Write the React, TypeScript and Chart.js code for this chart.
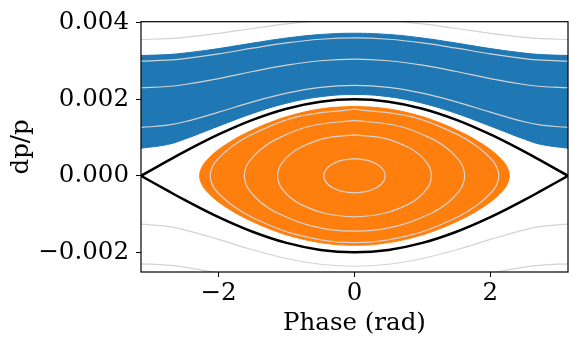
import React, { useEffect, useRef } from 'react';
import { Chart, registerables } from 'chart.js';

Chart.register(...registerables);

// Phase samples (rad) for one half of the symmetric open curves (mirrored to negative phase)
const PHASE_HALF = [0, 0.5, 1, 1.5, 2, 2.5, 2.75, 3.1416];

// Separatrix (upper branch; lower branch is its mirror), dp/p
const SEPARATRIX = [0.002, 0.001938, 0.001755, 0.001463, 0.001081, 0.000631, 0.000389, 0];

// Open (outside-bucket) contour lines, upper branches, dp/p
const CONTOUR_A = [0.002366, 0.002314, 0.002163, 0.001934, 0.001664, 0.001413, 0.001323, 0.001265];
const CONTOUR_B = [0.00305, 0.003009, 0.002895, 0.002728, 0.002543, 0.002387, 0.002335, 0.002302];
const CONTOUR_C = [0.003606, 0.003571, 0.003476, 0.003338, 0.003189, 0.003066, 0.003025, 0.003];
const CONTOUR_D = [0.004087, 0.004056, 0.003972, 0.003852, 0.003724, 0.003619, 0.003585, 0.003564];
// lower open contours
const CONTOUR_A_LOW = [-0.002366, -0.002314, -0.002163, -0.001934, -0.001664, -0.001413, -0.001323, -0.001265];
const CONTOUR_B_LOW = [-0.00305, -0.003009, -0.002895, -0.002728, -0.002543, -0.002387, -0.002335, -0.002302];

// Blue (unbunched) particle band: upper and lower envelope, dp/p
const BAND_TOP = [0.003728, 0.003695, 0.003603, 0.00347, 0.003327, 0.003209, 0.00317, 0.003146];
const BAND_BOTTOM = [0.002126, 0.002068, 0.001898, 0.001631, 0.001299, 0.000958, 0.000819, 0.000721];

// Closed contours inside the bucket: one quadrant each (phase, dp/p), mirrored to full rings
const BUNCH_EDGE_PHASE = [0, 0.4557, 0.9114, 1.2532, 1.595, 1.7772, 1.9367, 2.0507, 2.1646, 2.2443, 2.2785];
const BUNCH_EDGE_DP = [0.001817, 0.00176, 0.00159, 0.001387, 0.001119, 0.000944, 0.000764, 0.000614, 0.000423, 0.000227, 0];
const RING_1_PHASE = [0, 0.85, 1.487, 1.805, 2.018, 2.092, 2.124];
const RING_1_DP = [0.001746, 0.00154, 0.001103, 0.000765, 0.00043, 0.000232, 0];
const RING_2_PHASE = [0, 0.6483, 1.1346, 1.3777, 1.5398, 1.5965, 1.6208];
const RING_2_DP = [0.001449, 0.001302, 0.000972, 0.000696, 0.000402, 0.00022, 0];
const RING_3_PHASE = [0, 0.4527, 0.7922, 0.9619, 1.0751, 1.1147, 1.1317];
const RING_3_DP = [0.001072, 0.000974, 0.000745, 0.000541, 0.000318, 0.000175, 0];
const RING_4_PHASE = [0, 0.1804, 0.3157, 0.3834, 0.4285, 0.4442, 0.451];
const RING_4_DP = [0.000447, 0.000409, 0.000318, 0.000234, 0.000139, 0.000077, 0];

// Axis ticks
const X_TICKS = [-2, 0, 2];
const Y_TICKS = [-0.002, 0, 0.002, 0.004];
const X_MIN = -3.1416;
const X_MAX = 3.1416;
const Y_MIN = -0.002516;
const Y_MAX = 0.00403;

const BLUE = '#1f77b4';
const ORANGE = '#ff7f0e';
const GREY = '#d3d3d3';
const FONT = "'DejaVu Serif', serif";
const FONT_SIZE = 24.5;

function mirrored(values: number[], sign = 1) {
  const pts: { x: number; y: number }[] = [];
  for (let i = PHASE_HALF.length - 1; i >= 1; i--) pts.push({ x: -PHASE_HALF[i], y: sign * values[i] });
  for (let i = 0; i < PHASE_HALF.length; i++) pts.push({ x: PHASE_HALF[i], y: sign * values[i] });
  return pts;
}

function ring(ph: number[], dp: number[]) {
  const pts: { x: number; y: number }[] = [];
  const n = ph.length;
  for (let i = 0; i < n; i++) pts.push({ x: ph[i], y: dp[i] });
  for (let i = n - 2; i >= 0; i--) pts.push({ x: ph[i], y: -dp[i] });
  for (let i = 1; i < n; i++) pts.push({ x: -ph[i], y: -dp[i] });
  for (let i = n - 2; i >= 0; i--) pts.push({ x: -ph[i], y: dp[i] });
  return pts;
}

function fmtMinus(s: string) {
  return s.replace('-', '\u2212');
}

const framePlugin = {
  id: 'frame',
  afterDatasetsDraw(chart: any) {
    const { ctx, chartArea } = chart;
    ctx.save();
    ctx.strokeStyle = '#000';
    ctx.lineWidth = 1.2;
    ctx.strokeRect(chartArea.left, chartArea.top, chartArea.right - chartArea.left, chartArea.bottom - chartArea.top);
    ctx.restore();
  },
};

export default function App() {
  const ref = useRef<HTMLCanvasElement | null>(null);

  useEffect(() => {
    if (!ref.current) return;
    const line = (data: any[], color: string, width: number, order: number, extra: any = {}) => ({
      data,
      showLine: true,
      borderColor: color,
      backgroundColor: color,
      borderWidth: width,
      pointRadius: 0,
      pointHoverRadius: 0,
      tension: 0.4,
      fill: false,
      order,
      ...extra,
    });

    const chart = new Chart(ref.current, {
      type: 'scatter',
      data: {
        datasets: [
          line(mirrored(BAND_TOP), BLUE, 1, 10, { fill: '+1' }),
          line(mirrored(BAND_BOTTOM), BLUE, 1, 10),
          line(ring(BUNCH_EDGE_PHASE, BUNCH_EDGE_DP), ORANGE, 1, 9, { fill: 'shape' }),
          line(mirrored(CONTOUR_A), GREY, 1.2, 5),
          line(mirrored(CONTOUR_B), GREY, 1.2, 5),
          line(mirrored(CONTOUR_C), GREY, 1.2, 5),
          line(mirrored(CONTOUR_D), GREY, 1.2, 5),
          line(mirrored(CONTOUR_A_LOW), GREY, 1.2, 5),
          line(mirrored(CONTOUR_B_LOW), GREY, 1.2, 5),
          line(ring(RING_1_PHASE, RING_1_DP), GREY, 1.2, 5),
          line(ring(RING_2_PHASE, RING_2_DP), GREY, 1.2, 5),
          line(ring(RING_3_PHASE, RING_3_DP), GREY, 1.2, 5),
          line(ring(RING_4_PHASE, RING_4_DP), GREY, 1.2, 5),
          line(mirrored(SEPARATRIX), '#000', 2.5, 1),
          line(mirrored(SEPARATRIX, -1), '#000', 2.5, 1),
        ],
      },
      options: {
        animation: false,
        responsive: false,
        devicePixelRatio: 1,
        events: [],
        layout: { padding: { left: 0, right: 10, top: 19, bottom: 0 } },
        plugins: {
          legend: { display: false },
          tooltip: { enabled: false },
        },
        scales: {
          x: {
            type: 'linear',
            min: X_MIN,
            max: X_MAX,
            afterBuildTicks: (scale: any) => {
              scale.ticks = X_TICKS.map((v) => ({ value: v }));
            },
            afterFit: (scale: any) => {
              scale.height = 72;
            },
            ticks: {
              autoSkip: false,
              maxRotation: 0,
              color: '#000',
              padding: 2,
              font: { family: FONT, size: FONT_SIZE },
              callback: (v: any) => fmtMinus(String(Math.round(Number(v)))),
            },
            grid: { drawOnChartArea: false, drawTicks: true, tickLength: 5, tickColor: '#000', tickWidth: 1 },
            border: { display: false },
            title: {
              display: true,
              text: 'Phase (rad)',
              color: '#000',
              font: { family: FONT, size: FONT_SIZE },
              padding: { top: 0, bottom: 6 },
            },
          },
          y: {
            type: 'linear',
            min: Y_MIN,
            max: Y_MAX,
            afterBuildTicks: (scale: any) => {
              scale.ticks = Y_TICKS.map((v) => ({ value: v }));
            },
            afterFit: (scale: any) => {
              scale.width = 141;
            },
            ticks: {
              autoSkip: false,
              color: '#000',
              padding: 7,
              font: { family: FONT, size: FONT_SIZE },
              callback: (v: any) => {
                const n = Number(v);
                if (Math.abs(n) < 1e-12) return '0.000';
                return (n < 0 ? '\u2212' : '') + Math.abs(n).toFixed(3);
              },
            },
            grid: { drawOnChartArea: false, drawTicks: true, tickLength: 5, tickColor: '#000', tickWidth: 1 },
            border: { display: false },
            title: {
              display: true,
              text: 'dp/p',
              color: '#000',
              font: { family: FONT, size: FONT_SIZE },
              padding: { top: 7, bottom: 0 },
            },
          },
        },
      },
      plugins: [framePlugin],
    } as any);

    return () => chart.destroy();
  }, []);

  return (
    <div style={{ position: 'absolute', left: 0, top: 0, width: 578, height: 344, background: '#fff' }}>
      <canvas ref={ref} width={578} height={344} style={{ width: 578, height: 344, display: 'block' }} />
    </div>
  );
}
